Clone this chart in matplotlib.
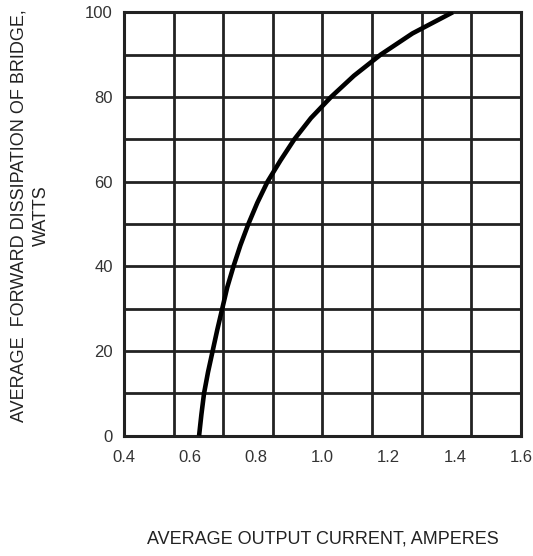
import matplotlib
matplotlib.use("Agg")
import matplotlib.pyplot as plt
import numpy as np

plt.rcParams['font.family'] = ['Liberation Sans', 'DejaVu Sans']

# Data
current_amps = [0.627, 0.634, 0.642, 0.654, 0.668, 0.682, 0.697, 0.712, 0.731,
                0.752, 0.776, 0.803, 0.834, 0.873, 0.915, 0.965, 1.026, 1.095,
                1.176, 1.272, 1.394]
dissipation_watts = [0, 5, 10, 15, 20, 25, 30, 35, 40, 45, 50, 55, 60, 65, 70,
                     75, 80, 85, 90, 95, 100]

x_tick_values = [0.4, 0.6, 0.8, 1.0, 1.2, 1.4, 1.6]
x_tick_labels = ["0.4", "0.6", "0.8", "1.0", "1.2", "1.4", "1.6"]
y_tick_values = [0, 20, 40, 60, 80, 100]
y_tick_labels = ["0", "20", "40", "60", "80", "100"]

fig = plt.figure(figsize=(5.33, 5.56), dpi=100)
ax = fig.add_axes([0.2326, 0.2164, 0.7449, 0.7616])

grid_color = "#222222"
ax.set_xlim(0.4, 1.6)
ax.set_ylim(0, 100)

ax.set_xticks(x_tick_values)
ax.set_xticklabels(x_tick_labels)
ax.set_yticks(y_tick_values)
ax.set_yticklabels(y_tick_labels)

ax.tick_params(which='both', length=0)
ax.tick_params(axis='x', pad=10, labelsize=12, labelcolor="#333333")
ax.tick_params(axis='y', pad=8, labelsize=12, labelcolor="#333333")

# grid: 8 columns, 10 rows
for gx in np.linspace(0.4, 1.6, 9)[1:-1]:
    ax.axvline(gx, color=grid_color, linewidth=2.0, zorder=1)
for gy in np.linspace(0, 100, 11)[1:-1]:
    ax.axhline(gy, color=grid_color, linewidth=2.0, zorder=1)

for s in ax.spines.values():
    s.set_color(grid_color)
    s.set_linewidth(2.2)

ax.plot(current_amps, dissipation_watts, color="black", linewidth=3.3,
        solid_capstyle='butt', solid_joinstyle='round', zorder=5)

ax.set_xlabel("AVERAGE OUTPUT CURRENT, AMPERES", fontsize=13, color="#222222",
              va='center')
ax.xaxis.set_label_coords(0.5, -0.245)
ax.set_ylabel("AVERAGE  FORWARD DISSIPATION OF BRIDGE,\nWATTS", fontsize=13,
              color="#222222", linespacing=1.45, ha='center', va='center')
ax.yaxis.set_label_coords(-0.2355, 0.519)

fig.savefig("out.png", dpi=100)
